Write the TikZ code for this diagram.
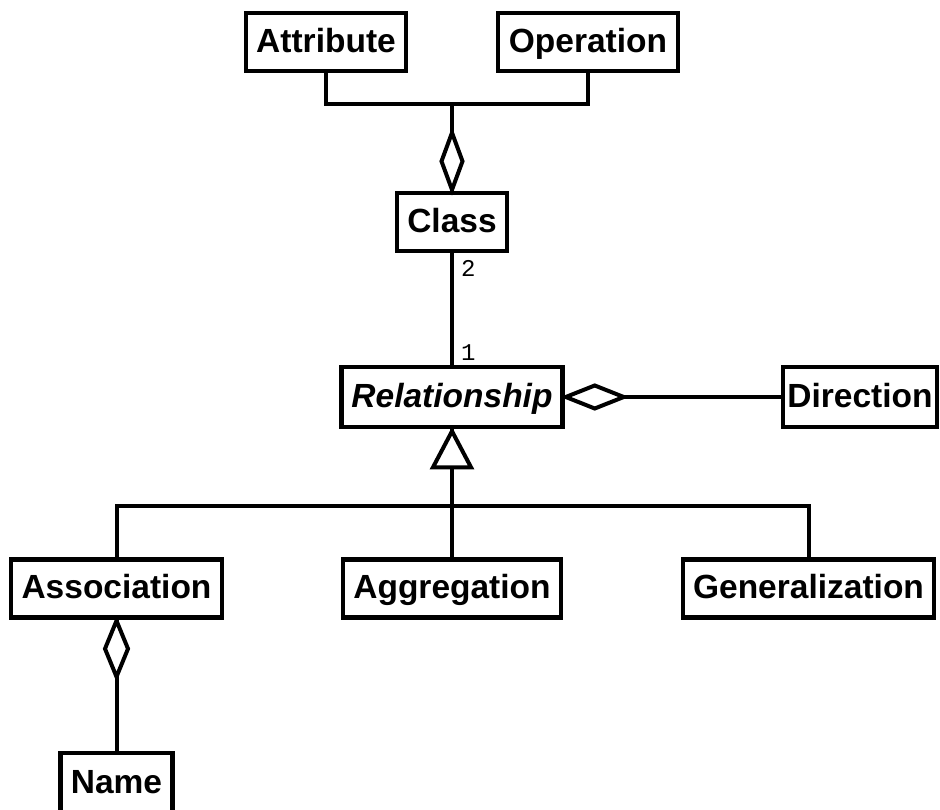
\documentclass[tikz,border=0pt]{standalone}
\usepackage{fontspec}
\setmainfont{Liberation Sans}
\newfontfamily\monofont{Liberation Mono}
\usetikzlibrary{calc}

\tikzset{
  classbox/.style={draw, line width=4.5pt, minimum height=58pt, inner sep=0pt,
    text height=24.5pt, text depth=4pt,
    font=\fontsize{33.5}{38}\selectfont\bfseries},
  conn/.style={line width=4pt},
  tipshape/.style={line width=4pt, fill=white, line join=miter},
  mult/.style={inner sep=0pt, font=\monofont\fontsize{24}{26}\selectfont}
}

\begin{document}
\begin{tikzpicture}[x=1pt, y=-1pt]
  \useasboundingbox (0,0) rectangle (940,810);

  % classes
  \node[classbox, minimum width=160pt] (attr)  at (326,42)    {Attribute};
  \node[classbox, minimum width=180pt] (oper)  at (588,42)    {Operation};
  \node[classbox, minimum width=110pt] (class) at (452,222)   {Class};
  \node[classbox, minimum width=221pt, minimum height=60pt] (rel) at (452,397)
    {\itshape Relationship};
  \node[classbox, minimum width=154pt, minimum height=60pt] (dir) at (860,397)
    {Direction};
  \node[classbox, minimum width=211pt] (assoc) at (116.5,588.5) {Association};
  \node[classbox, minimum width=218pt] (aggrn) at (452,588.5)   {Aggregation};
  \node[classbox, minimum width=251pt] (gen)   at (808.5,588.5) {Generalization};
  \node[classbox, minimum width=112pt, minimum height=60pt] (name) at (116.5,783)
    {Name};

  % Class aggregates Attribute and Operation
  \coordinate (topbus) at (452,104);
  \draw[conn] (attr.south) |- (topbus) -| (oper.south);
  \draw[conn] (topbus) -- (class.north);
  \draw[tipshape] ($(class.north)+(0,-1)$) -- ++(-10.5,-28.5) -- ++(10.5,-28.5)
    -- ++(10.5,28.5) -- cycle;

  % Class -- Relationship with multiplicities
  \draw[conn] (class.south) -- (rel.north);
  \node[mult, anchor=base west] at (461,277) {2};
  \node[mult, anchor=base west] at (461,360) {1};

  % Relationship aggregates Direction
  \draw[conn] (dir.west) -- (rel.east);
  \draw[tipshape] ($(rel.east)+(1,0)$) -- ++(29,-11.5) -- ++(29,11.5)
    -- ++(-29,11.5) -- cycle;

  % Subclasses of Relationship
  \coordinate (bus) at (452,506);
  \draw[conn] (aggrn.north) -- (rel.south);
  \draw[conn] (assoc.north) |- (bus) -| (gen.north);
  \draw[tipshape] ($(rel.south)+(0,2)$) -- ++(19,36) -- ++(-38,0) -- cycle;

  % Association aggregates Name
  \draw[conn] (name.north) -- (assoc.south);
  \draw[tipshape] ($(assoc.south)+(0,1)$) -- ++(11.5,28) -- ++(-11.5,28)
    -- ++(-11.5,-28) -- cycle;
\end{tikzpicture}
\end{document}
